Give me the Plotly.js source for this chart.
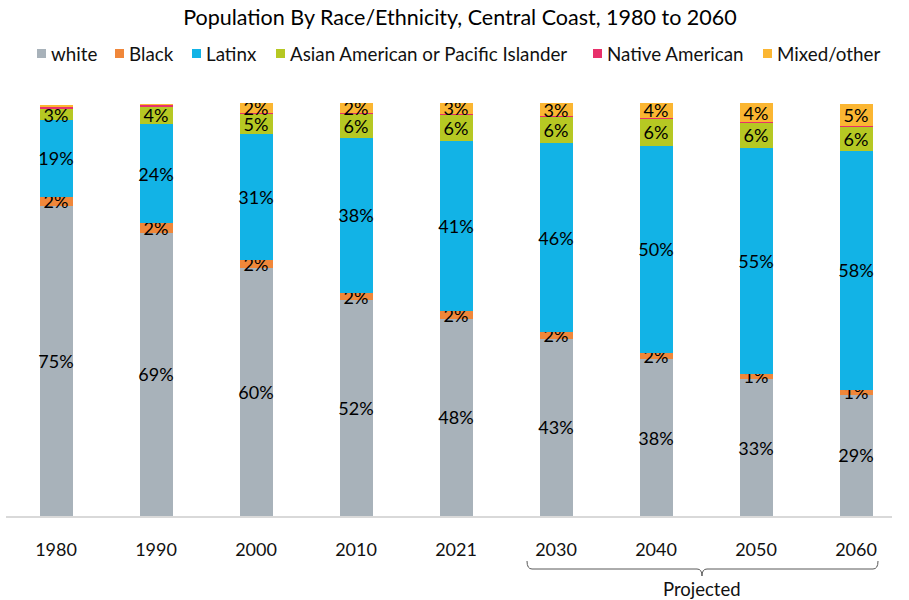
<!DOCTYPE html>
<html>
<head>
<meta charset="utf-8">
<script src="https://cdn.plot.ly/plotly-3.0.1.min.js"></script>
<style>
  html, body { margin: 0; padding: 0; background: #fff; }
  #chart { width: 909px; height: 600px; }
</style>
</head>
<body>
<div id="chart"></div>
<script>
// Population share (%) by race/ethnicity, Central Coast
const years = ['1980', '1990', '2000', '2010', '2021', '2030', '2040', '2050', '2060'];

const white    = [75.1, 68.6, 60.0, 52.2, 47.8, 42.9, 37.9, 33.1, 29.3];
const black    = [2.2, 2.3, 2.0, 1.8, 1.9, 1.7, 1.6, 1.4, 1.3];
const latinx   = [18.6, 24.0, 30.6, 37.6, 41.1, 45.6, 50.2, 54.6, 57.9];
const asianPI  = [2.6, 4.2, 4.7, 5.8, 6.2, 6.3, 6.4, 6.1, 5.8];
const native   = [0.6, 0.5, 0.4, 0.3, 0.3, 0.3, 0.3, 0.3, 0.2];
const mixed    = [0.5, 0.2, 2.4, 2.4, 2.8, 3.2, 3.7, 4.4, 5.3];

const seriesNames  = ['white', 'Black', 'Latinx', 'Asian American or Pacific Islander', 'Native American', 'Mixed/other'];
const seriesValues = [white, black, latinx, asianPI, native, mixed];
const seriesColors = ['#A8B2BA', '#F0873A', '#12B3E6', '#B6C823', '#E8306B', '#FBB632'];
// Segments thinner than this carry no label
const labelMin     = [1, 0.5, 1, 1, 100, 1.5];

const FONT = 'Lato, "Open Sans", sans-serif';

const traces = seriesNames.map((name, i) => ({
  type: 'bar',
  name: name,
  x: years,
  y: seriesValues[i],
  width: 0.33,
  marker: { color: seriesColors[i], line: { width: 0 } },
  text: seriesValues[i].map(v => v >= labelMin[i] ? Math.round(v) + '%' : ''),
  textposition: 'inside',
  insidetextanchor: 'middle',
  constraintext: 'none',
  textangle: 0,
  textfont: { family: FONT, size: 18, color: '#000' },
  hoverinfo: 'name+y',
  showlegend: false
}));

// plot area in page pixels
const L = 6, R = 892, T = 103, B = 516;
const px = x => (x - L) / (R - L);
const py = y => (B - y) / (B - T);

// legend row: swatch + label
const legendSwatchX = [37, 115, 192, 276, 593, 763];
const legendY = 53;
const shapes = [];
const annotations = [];
seriesNames.forEach((name, i) => {
  const sx = legendSwatchX[i];
  shapes.push({
    type: 'rect', xref: 'paper', yref: 'paper',
    x0: px(sx), x1: px(sx + 9), y0: py(legendY + 5), y1: py(legendY - 4),
    fillcolor: seriesColors[i], line: { width: 0 }
  });
  annotations.push({
    xref: 'paper', yref: 'paper', x: px(sx + 12), y: py(legendY),
    xanchor: 'left', yanchor: 'middle', showarrow: false,
    text: name, font: { family: FONT, size: 18.8, color: '#111' }
  });
});

// bracket under the projected years
const bx0 = 527, bx1 = 878, bmid = 702, btop = 561, bline = 569, btip = 576;
const pathPts = [
  'M', px(bx0), py(btop),
  'Q', px(bx0), py(bline), px(bx0 + 5), py(bline),
  'L', px(bmid - 5), py(bline),
  'Q', px(bmid), py(bline), px(bmid), py(btip),
  'Q', px(bmid), py(bline), px(bmid + 5), py(bline),
  'L', px(bx1 - 5), py(bline),
  'Q', px(bx1), py(bline), px(bx1), py(btop)
];
let d = '';
for (let k = 0; k < pathPts.length; k++) {
  const p = pathPts[k];
  if (typeof p === 'string') d += p + ' ';
  else d += p.toFixed(5) + (k + 1 < pathPts.length && typeof pathPts[k + 1] !== 'string' ? ',' : ' ');
}
shapes.push({
  type: 'path', xref: 'paper', yref: 'paper', path: d.trim(),
  line: { color: '#595959', width: 1 }
});
annotations.push({
  xref: 'paper', yref: 'paper', x: px(bmid), y: py(589),
  xanchor: 'center', yanchor: 'middle', showarrow: false,
  text: 'Projected', font: { family: FONT, size: 18.5, color: '#111' }
});

const layout = {
  width: 909,
  height: 600,
  margin: { l: L, r: 909 - R, t: T, b: 600 - B, pad: 0 },
  paper_bgcolor: '#fff',
  plot_bgcolor: '#fff',
  barmode: 'stack',
  showlegend: false,
  title: {
    text: 'Population By Race/Ethnicity, Central Coast, 1980 to 2060',
    font: { family: FONT, size: 21.5, color: '#000' },
    x: 0.506, xanchor: 'center',
    y: 1 - 17 / 600, yref: 'container', yanchor: 'middle'
  },
  xaxis: {
    type: 'category',
    range: [-0.5, (R - L) / 100 - 0.5],
    showline: true, linecolor: '#d9d9d9', linewidth: 1.5,
    showgrid: false, zeroline: false, ticks: '',
    tickfont: { family: FONT, size: 18, color: '#111' },
    ticklabelstandoff: 17,
    fixedrange: true
  },
  yaxis: {
    range: [0, 100],
    visible: false,
    fixedrange: true
  },
  shapes: shapes,
  annotations: annotations
};

Plotly.newPlot('chart', traces, layout, { displayModeBar: false, staticPlot: true });
</script>
</body>
</html>
